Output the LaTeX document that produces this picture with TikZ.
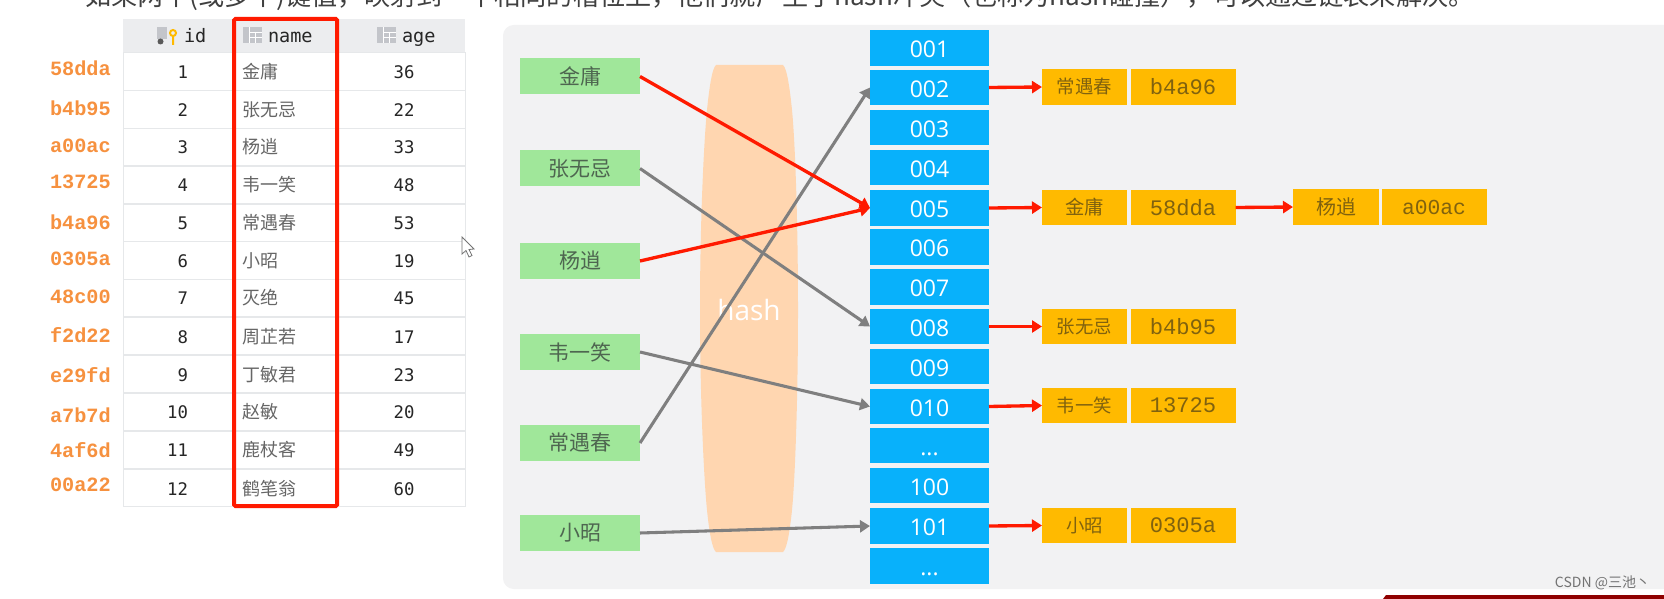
\documentclass[tikz,border=0pt]{standalone}
\usepackage{fontspec}
\usetikzlibrary{arrows.meta}
\setmainfont{Open Sans}
\setmonofont{Liberation Mono}
\newfontfamily\cjk{Noto Sans CJK SC}
\newfontfamily\tablemono{DejaVu Sans Mono}
\newfontfamily\labelmono{Liberation Mono}[BoldFont={Liberation Mono Bold}]
\definecolor{panelgray}{HTML}{F2F2F3}
\definecolor{slotblue}{HTML}{08B1FB}
\definecolor{namegreen}{HTML}{A0E79A}
\definecolor{nametext}{HTML}{4E6650}
\definecolor{chainorange}{HTML}{FFBA00}
\definecolor{chaintext}{HTML}{80620F}
\definecolor{hashfill}{HTML}{FFD6B0}
\definecolor{hashred}{HTML}{FF1A00}
\definecolor{hashgray}{HTML}{7F7F7F}
\definecolor{rowline}{HTML}{E6E8EA}
\definecolor{headfill}{HTML}{ECEDEF}
\definecolor{keyorange}{HTML}{F6913F}
\definecolor{icongray}{HTML}{C3C5CA}

\begin{document}
\begin{tikzpicture}[x=0.75pt,y=-0.75pt,
    every node/.style={inner sep=0pt,outer sep=0pt,align=center},
    namebox/.style={fill=namegreen,text=nametext,minimum width=90pt,minimum height=27pt,font=\cjk\fontsize{15.75pt}{18pt}\selectfont},
    slotbox/.style={fill=slotblue,text=white,minimum width=89.25pt,minimum height=26.5pt,text height=14.3pt,text depth=0pt,font=\fontsize{17.25pt}{20pt}\selectfont},
    chainkey/.style={fill=chainorange,text=chaintext,minimum width=63.75pt,minimum height=26.5pt,font=\cjk\fontsize{13.8pt}{16pt}\selectfont},
    chainval/.style={fill=chainorange,text=chaintext,minimum width=78.75pt,minimum height=26.5pt,font=\ttfamily\fontsize{16.6pt}{20pt}\selectfont},
    rowbox/.style={draw=rowline,line width=0.75pt,fill=white,minimum width=256.5pt,minimum height=28.3pt},
    keylabel/.style={text=keyorange,anchor=west,font=\labelmono\bfseries\fontsize{15.2pt}{18pt}\selectfont},
    numcell/.style={text=black!85,anchor=east,font=\tablemono\fontsize{13pt}{16pt}\selectfont},
    agecell/.style={text=black!85,font=\tablemono\fontsize{13pt}{16pt}\selectfont},
    namecell/.style={text=black!60,anchor=west,font=\cjk\fontsize{13.5pt}{16pt}\selectfont},
    headcell/.style={text=black!85,anchor=west,text height=10pt,text depth=3pt,font=\tablemono\fontsize{13.9pt}{16pt}\selectfont},
    redarrow/.style={draw=hashred,line width=2.5pt,-{Triangle[length=7.5pt,width=9pt]}},
    grayarrow/.style={draw=hashgray,line width=2.3pt,-{Triangle[length=7.5pt,width=9pt]}}]
      \useasboundingbox (0,0) rectangle (1664,599);
      \node[anchor=west,text=black!75,font=\cjk\fontsize{19.6pt}{22pt}\selectfont] (title) at (85,-3) {如果两个(或多个)键值，映射到一个相同的槽位上，他们就产生了hash冲突（也称为hash碰撞），可以通过链表来解决。};

      \node[fill=headfill,minimum width=256.5pt,minimum height=24.75pt] (headrow) at (294,35.5) {};
      \node[rowbox] (row1) at (294,71.5) {};
      \node[rowbox] (row2) at (294,109.5) {};
      \node[rowbox] (row3) at (294,147) {};
      \node[rowbox] (row4) at (294,185) {};
      \node[rowbox] (row5) at (294,223) {};
      \node[rowbox] (row6) at (294,260.5) {};
      \node[rowbox] (row7) at (294,298) {};
      \node[rowbox] (row8) at (294,336) {};
      \node[rowbox] (row9) at (294,374) {};
      \node[rowbox] (row10) at (294,412) {};
      \node[rowbox] (row11) at (294,450) {};
      \node[rowbox] (row12) at (294,488) {};

      \fill[icongray] (157,27) rectangle (167,39);
      \fill[black!65] (160.5,41.5) circle (3);
      \draw[chainorange,line width=1.5pt] (173,33) circle (3) (173,36) -- (173,45);
      \fill[icongray] (243,27) rectangle (262,43);
      \draw[white,line width=0.6pt] (249,27) -- (249,43) (249,32) -- (262,32) (249,37) -- (262,37) (255,32) -- (255,43);
      \fill[icongray] (377,27) rectangle (396,43);
      \draw[white,line width=0.6pt] (383,27) -- (383,43) (383,32) -- (396,32) (383,37) -- (396,37) (389,32) -- (389,43);
      \node[headcell] (headid) at (184,37.5) {id};
      \node[headcell] (headname) at (268,37.5) {name};
      \node[headcell] (headage) at (402,37.5) {age};

      \node[keylabel] (key1) at (50,68) {58dda};
      \node[keylabel] (key2) at (50,108) {b4b95};
      \node[keylabel] (key3) at (50,146) {a00ac};
      \node[keylabel] (key4) at (50,182) {13725};
      \node[keylabel] (key5) at (50,222) {b4a96};
      \node[keylabel] (key6) at (50,259) {0305a};
      \node[keylabel] (key7) at (50,297) {48c00};
      \node[keylabel] (key8) at (50,335) {f2d22};
      \node[keylabel] (key9) at (50,375) {e29fd};
      \node[keylabel] (key10) at (50,415) {a7b7d};
      \node[keylabel] (key11) at (50,450) {4af6d};
      \node[keylabel] (key12) at (50,485) {00a22};

      \node[numcell] (id1) at (188,72) {1};
      \node[namecell] (name1) at (242,72) {金庸};
      \node[agecell] (age1) at (404,72) {36};
      \node[numcell] (id2) at (188,110) {2};
      \node[namecell] (name2) at (242,110) {张无忌};
      \node[agecell] (age2) at (404,110) {22};
      \node[numcell] (id3) at (188,147) {3};
      \node[namecell] (name3) at (242,147) {杨逍};
      \node[agecell] (age3) at (404,147) {33};
      \node[numcell] (id4) at (188,185) {4};
      \node[namecell] (name4) at (242,185) {韦一笑};
      \node[agecell] (age4) at (404,185) {48};
      \node[numcell] (id5) at (188,223) {5};
      \node[namecell] (name5) at (242,223) {常遇春};
      \node[agecell] (age5) at (404,223) {53};
      \node[numcell] (id6) at (188,261) {6};
      \node[namecell] (name6) at (242,261) {小昭};
      \node[agecell] (age6) at (404,261) {19};
      \node[numcell] (id7) at (188,298) {7};
      \node[namecell] (name7) at (242,298) {灭绝};
      \node[agecell] (age7) at (404,298) {45};
      \node[numcell] (id8) at (188,337) {8};
      \node[namecell] (name8) at (242,337) {周芷若};
      \node[agecell] (age8) at (404,337) {17};
      \node[numcell] (id9) at (188,375) {9};
      \node[namecell] (name9) at (242,375) {丁敏君};
      \node[agecell] (age9) at (404,375) {23};
      \node[numcell] (id10) at (188,412) {10};
      \node[namecell] (name10) at (242,412) {赵敏};
      \node[agecell] (age10) at (404,412) {20};
      \node[numcell] (id11) at (188,450) {11};
      \node[namecell] (name11) at (242,450) {鹿杖客};
      \node[agecell] (age11) at (404,450) {49};
      \node[numcell] (id12) at (188,489) {12};
      \node[namecell] (name12) at (242,489) {鹤笔翁};
      \node[agecell] (age12) at (404,489) {60};
      \node[draw=hashred,line width=3pt,rounded corners=1pt,minimum width=77.25pt,minimum height=365.25pt] (namecol) at (285.5,262.5) {};
      \draw[fill=white,draw=black!55,line width=0.6pt] (462,237) -- (462,254) -- (466,250.5) -- (469,257) -- (472,255.5) -- (469,249.5) -- (474,249) -- cycle;

      \fill[panelgray,rounded corners=8pt] (503,25) -- (1700,25) -- (1700,589) -- (503,589) -- cycle;
      \fill[hashfill] (716,65) -- (783,65) .. controls (787,68) and (790,90) .. (792,110) .. controls (795,140) and (798,220) .. (798,310) .. controls (798,400) and (795,480) .. (792,510) .. controls (790,530) and (787,549) .. (783,552) -- (716,552) .. controls (712,549) and (709,530) .. (707,510) .. controls (704,480) and (700,400) .. (700,310) .. controls (700,220) and (704,140) .. (707,110) .. controls (709,90) and (712,68) .. (716,65) -- cycle;
      \node[text=white,font=\fontsize{21pt}{24pt}\selectfont] (hash) at (749,310) {hash};

      \node[namebox] (jin) at (580,76.5) {金庸};
      \node[namebox] (zhang) at (580,168.5) {张无忌};
      \node[namebox] (yang) at (580,261) {杨逍};
      \node[namebox] (wei) at (580,352) {韦一笑};
      \node[namebox] (chang) at (580,443) {常遇春};
      \node[namebox] (xiao) at (580,533) {小昭};

      \node[slotbox] (s001) at (929.5,48) {001};
      \node[slotbox] (s002) at (929.5,87.5) {002};
      \node[slotbox] (s003) at (929.5,127.5) {003};
      \node[slotbox] (s004) at (929.5,167.5) {004};
      \node[slotbox] (s005) at (929.5,208) {005};
      \node[slotbox] (s006) at (929.5,247) {006};
      \node[slotbox] (s007) at (929.5,287) {007};
      \node[slotbox] (s008) at (929.5,326.5) {008};
      \node[slotbox] (s009) at (929.5,366.5) {009};
      \node[slotbox] (s010) at (929.5,406.5) {010};
      \node[slotbox] (s011) at (929.5,445.5) {...};
      \node[slotbox] (s100) at (929.5,485.5) {100};
      \node[slotbox] (s101) at (929.5,526) {101};
      \node[slotbox] (s102) at (929.5,566) {...};

      \node[chainkey] (ck002) at (1084.5,87) {常遇春};
      \node[chainval] (cv002) at (1183,87) {b4a96};
      \node[chainkey,font=\cjk\fontsize{14.5pt}{16pt}\selectfont] (ck005) at (1084.5,207.5) {金庸};
      \node[chainval] (cv005) at (1183,207.5) {58dda};
      \node[chainkey,font=\cjk\fontsize{15pt}{16pt}\selectfont,minimum width=64.5pt,minimum height=27pt] (cl005) at (1336,207) {杨逍};
      \node[chainval,font=\ttfamily\fontsize{16pt}{20pt}\selectfont] (cw005) at (1434,207) {a00ac};
      \node[chainkey] (ck008) at (1084.5,326.5) {张无忌};
      \node[chainval] (cv008) at (1183,326.5) {b4b95};
      \node[chainkey] (ck010) at (1084.5,405.5) {韦一笑};
      \node[chainval] (cv010) at (1183,405.5) {13725};
      \node[chainkey] (ck101) at (1084.5,525.5) {小昭};
      \node[chainval] (cv101) at (1183,525.5) {0305a};

      \draw[grayarrow] (zhang.east) -- (s008.west);
      \draw[grayarrow] (wei.east) -- (s010.west);
      \draw[grayarrow] (chang.east) -- (s002.west);
      \draw[grayarrow] (xiao.east) -- (s101.west);
      \draw[redarrow] (jin.east) -- (s005.west);
      \draw[redarrow] (yang.east) -- (s005.west);
      \draw[redarrow] (s002.east) -- (ck002.west);
      \draw[redarrow] (s005.east) -- (ck005.west);
      \draw[redarrow] (cv005.east) -- (cl005.west);
      \draw[redarrow] (s008.east) -- (ck008.west);
      \draw[redarrow] (s010.east) -- (ck010.west);
      \draw[redarrow] (s101.east) -- (ck101.west);

      \node[anchor=east,text=black!55,font=\cjk\fontsize{10.5pt}{12pt}\selectfont] (mark) at (1650,583) {CSDN @三池丶};
      \fill[black!20!red!70!black] (1383,599) -- (1386,595) -- (1664,595) -- (1664,599) -- cycle;
    \end{tikzpicture}
\end{document}
